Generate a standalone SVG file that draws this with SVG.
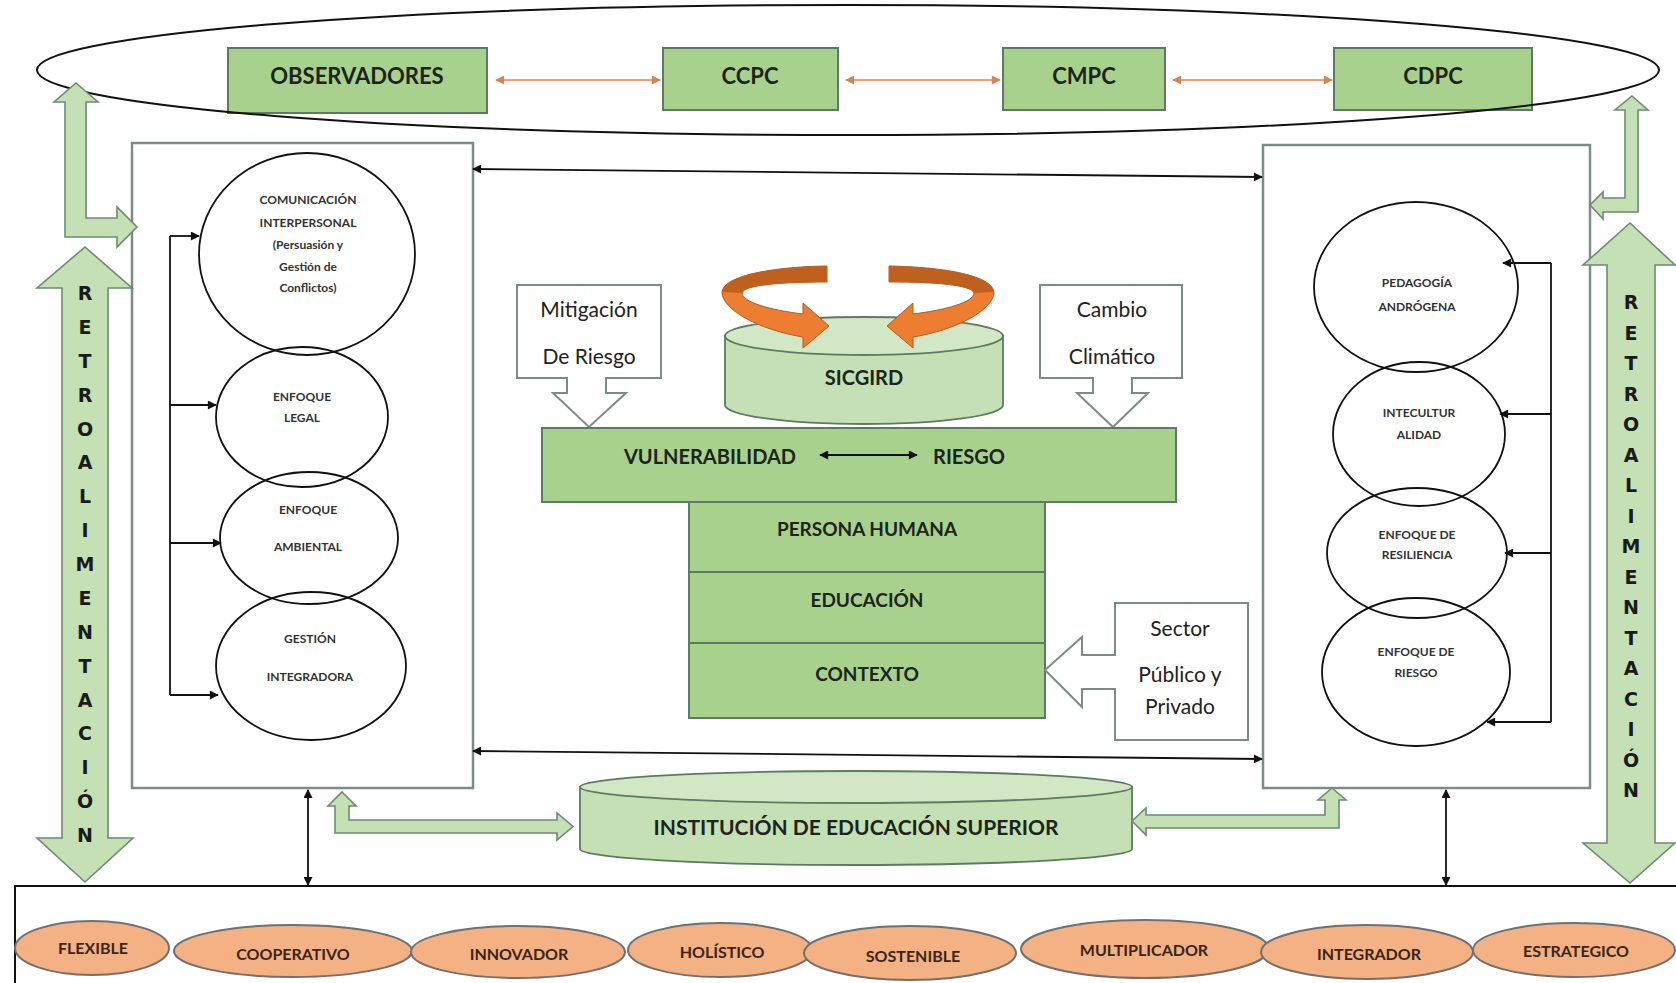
<svg xmlns="http://www.w3.org/2000/svg" width="1676" height="983" viewBox="0 0 1676 983">
  <style>
    .bg { fill: #ffffff; }
    .gbox { fill: #a9d18e; stroke: #5f7a62; stroke-width: 2; }
    .lbox { fill: #c5e0b4; stroke: #5f7a62; stroke-width: 1.8; }
    .ltop { fill: #d2e8c5; stroke: #5f7a62; stroke-width: 1.8; }
    .panel { fill: #ffffff; stroke: #7d8c85; stroke-width: 2.5; }
    .callout { fill: #ffffff; stroke: #7d8c85; stroke-width: 2; }
    .circ { fill: none; stroke: #111; stroke-width: 1.8; }
    .garrow { fill: #c5e0b4; stroke: #6e8b74; stroke-width: 1.6; stroke-linejoin: miter; }
    .oval { fill: #f4b183; stroke: #707070; stroke-width: 2; }
    .ln { fill: none; stroke: #111; stroke-width: 1.8; }
    .oln { fill: none; stroke: #f0a070; stroke-width: 2; }
    .tb { font-family: Lato, "Liberation Sans", sans-serif; font-weight: bold; fill: #1c241c; text-anchor: middle; }
    .tr { font-family: Lato, "Liberation Sans", sans-serif; font-weight: normal; fill: #222; text-anchor: middle; }
    .ts { font-family: Lato, "Liberation Sans", sans-serif; font-weight: bold; fill: #333; text-anchor: middle; font-size: 12px; }
    .to { font-family: Lato, "Liberation Sans", sans-serif; font-weight: bold; fill: #3a2518; text-anchor: middle; font-size: 16px; }
    .tv { font-family: "DejaVu Sans", sans-serif; font-weight: bold; fill: #1a1a1a; text-anchor: middle; font-size: 19px; }
  </style>
  <defs>
    <marker id="ah" viewBox="0 0 10 10" refX="9" refY="5" markerWidth="10" markerHeight="9" markerUnits="userSpaceOnUse" orient="auto-start-reverse">
      <path d="M0,0 L10,5 L0,10 z" fill="#111"/>
    </marker>
    <marker id="oh" viewBox="0 0 10 10" refX="9" refY="5" markerWidth="10" markerHeight="9" markerUnits="userSpaceOnUse" orient="auto-start-reverse">
      <path d="M0,0 L10,5 L0,10 z" fill="#d0855a"/>
    </marker>
  </defs>

  <rect class="bg" x="0" y="0" width="1676" height="983"/>

  <!-- top bodies -->
  <g id="observadores">
    <rect class="gbox" x="228" y="48" width="259" height="65"/>
    <text class="tb" x="357" y="84" font-size="22">OBSERVADORES</text>
  </g>
  <g id="ccpc">
    <rect class="gbox" x="663" y="48" width="175" height="62"/>
    <text class="tb" x="750" y="84" font-size="22">CCPC</text>
  </g>
  <g id="cmpc">
    <rect class="gbox" x="1003" y="48" width="162" height="62"/>
    <text class="tb" x="1084" y="84" font-size="22">CMPC</text>
  </g>
  <g id="cdpc">
    <rect class="gbox" x="1334" y="48" width="198" height="62"/>
    <text class="tb" x="1433" y="84" font-size="22">CDPC</text>
  </g>
  <g id="comites-ellipse">
    <ellipse cx="848" cy="70" rx="811" ry="65" fill="none" stroke="#111" stroke-width="2"/>
  </g>

  <!-- side panels -->
  <g id="panel-izquierdo">
    <rect class="panel" x="132" y="143" width="341" height="645"/>
  </g>
  <g id="panel-derecho">
    <rect class="panel" x="1263" y="145" width="327" height="643"/>
  </g>

  <!-- left column of approaches -->
  <g id="comunicacion">
    <ellipse class="circ" cx="307" cy="254" rx="108" ry="101"/>
    <text class="ts" x="308" y="204">COMUNICACIÓN</text>
    <text class="ts" x="308" y="227">INTERPERSONAL</text>
    <text class="ts" x="308" y="249">(Persuasión y</text>
    <text class="ts" x="308" y="271">Gestión de</text>
    <text class="ts" x="308" y="292">Conflictos)</text>
  </g>
  <g id="enfoque-legal">
    <ellipse class="circ" cx="302" cy="417" rx="86" ry="70"/>
    <text class="ts" x="302" y="401">ENFOQUE</text>
    <text class="ts" x="302" y="422">LEGAL</text>
  </g>
  <g id="enfoque-ambiental">
    <ellipse class="circ" cx="309" cy="538" rx="89" ry="66"/>
    <text class="ts" x="308" y="514">ENFOQUE</text>
    <text class="ts" x="308" y="551">AMBIENTAL</text>
  </g>
  <g id="gestion-integradora">
    <ellipse class="circ" cx="311" cy="666" rx="95" ry="74"/>
    <text class="ts" x="310" y="643">GESTIÓN</text>
    <text class="ts" x="310" y="681">INTEGRADORA</text>
  </g>

  <!-- right column of approaches -->
  <g id="pedagogia">
    <ellipse class="circ" cx="1416" cy="287" rx="102" ry="85"/>
    <text class="ts" x="1417" y="287">PEDAGOGÍA</text>
    <text class="ts" x="1417" y="311">ANDRÓGENA</text>
  </g>
  <g id="interculturalidad">
    <ellipse class="circ" cx="1419" cy="434" rx="86" ry="72"/>
    <text class="ts" x="1419" y="417">INTECULTUR</text>
    <text class="ts" x="1419" y="439">ALIDAD</text>
  </g>
  <g id="resiliencia">
    <ellipse class="circ" cx="1417" cy="553" rx="90" ry="65"/>
    <text class="ts" x="1417" y="539">ENFOQUE DE</text>
    <text class="ts" x="1417" y="559">RESILIENCIA</text>
  </g>
  <g id="enfoque-riesgo">
    <ellipse class="circ" cx="1416" cy="672" rx="94" ry="74"/>
    <text class="ts" x="1416" y="656">ENFOQUE DE</text>
    <text class="ts" x="1416" y="677">RIESGO</text>
  </g>

  <!-- centre block -->
  <g id="mitigacion">
    <polygon class="callout" points="517,285 661,285 661,378 606,378 606,393 626,393 589,427 553,393 567,393 567,378 517,378"/>
    <text class="tr" x="589" y="317" font-size="21">Mitigación</text>
    <text class="tr" x="589" y="364" font-size="21">De Riesgo</text>
  </g>
  <g id="cambio-climatico">
    <polygon class="callout" points="1040,285 1182,285 1182,378 1132,378 1132,393 1148,393 1113,427 1077,393 1093,393 1093,378 1040,378"/>
    <text class="tr" x="1112" y="317" font-size="21">Cambio</text>
    <text class="tr" x="1112" y="364" font-size="21">Climático</text>
  </g>
  <g id="sicgird">
    <path class="lbox" d="M725 336 V405 A139 19 0 0 0 1003 405 V336 Z"/>
    <ellipse class="ltop" cx="864" cy="336" rx="139" ry="19"/>
    <text class="tb" x="864" y="385" font-size="20">SICGIRD</text>
    <!-- rotating ribbon arrows around the cylinder -->
    <g id="ciclo-izq">
      <path d="M827 266 C770 267 724 276 722 292 C722 310 760 330 803 337 L803 348 L829 326 L803 303 L803 314 C770 310 742 302 742 293 C744 285 780 282 827 282 Z" fill="#ed7d31" stroke="#b45a22" stroke-width="1"/>
      <path d="M827 266 C770 267 724 276 722 292 L742 293 C744 285 780 282 827 282 Z" fill="#c0601f"/>
    </g>
    <g id="ciclo-der" transform="translate(1716,0) scale(-1,1)">
      <path d="M827 266 C770 267 724 276 722 292 C722 310 760 330 803 337 L803 348 L829 326 L803 303 L803 314 C770 310 742 302 742 293 C744 285 780 282 827 282 Z" fill="#ed7d31" stroke="#b45a22" stroke-width="1"/>
      <path d="M827 266 C770 267 724 276 722 292 L742 293 C744 285 780 282 827 282 Z" fill="#c0601f"/>
    </g>
  </g>
  <g id="vulnerabilidad-riesgo">
    <rect class="gbox" x="542" y="428" width="634" height="74"/>
    <text class="tb" x="710" y="464" font-size="20">VULNERABILIDAD</text>
    <text class="tb" x="969" y="464" font-size="20">RIESGO</text>
  </g>
  <g id="persona-humana">
    <rect class="gbox" x="689" y="502" width="356" height="70"/>
    <text class="tb" x="867" y="536" font-size="19">PERSONA HUMANA</text>
  </g>
  <g id="educacion">
    <rect class="gbox" x="689" y="572" width="356" height="71"/>
    <text class="tb" x="867" y="607" font-size="19">EDUCACIÓN</text>
  </g>
  <g id="contexto">
    <rect class="gbox" x="689" y="643" width="356" height="75"/>
    <text class="tb" x="867" y="681" font-size="19">CONTEXTO</text>
  </g>
  <g id="sector">
    <polygon class="callout" points="1115,603 1248,603 1248,740 1115,740 1115,689 1082,689 1082,707 1045,670 1082,637 1082,655 1115,655"/>
    <text class="tr" x="1180" y="636" font-size="21">Sector</text>
    <text class="tr" x="1180" y="682" font-size="21">Público y</text>
    <text class="tr" x="1180" y="714" font-size="21">Privado</text>
  </g>
  <g id="institucion">
    <path class="lbox" d="M580 787 V849 A276 16 0 0 0 1132 849 V787 Z"/>
    <ellipse class="ltop" cx="856" cy="787" rx="276" ry="16"/>
    <text class="tb" x="856" y="835" font-size="21">INSTITUCIÓN DE EDUCACIÓN SUPERIOR</text>
  </g>

  <!-- feedback arrows -->
  <g id="retro-izquierda">
    <polygon class="garrow" points="85,247 132,288 108,288 108,838 133,838 85,882 37,838 62,838 62,288 37,288"/>
    <text class="tv">
      <tspan x="85" y="300">R</tspan><tspan x="85" y="334">E</tspan><tspan x="85" y="368">T</tspan><tspan x="85" y="402">R</tspan><tspan x="85" y="436">O</tspan><tspan x="85" y="469">A</tspan><tspan x="85" y="503">L</tspan><tspan x="85" y="537">I</tspan><tspan x="85" y="571">M</tspan><tspan x="85" y="605">E</tspan><tspan x="85" y="639">N</tspan><tspan x="85" y="673">T</tspan><tspan x="85" y="707">A</tspan><tspan x="85" y="740">C</tspan><tspan x="85" y="774">I</tspan><tspan x="85" y="808">Ó</tspan><tspan x="85" y="842">N</tspan>
    </text>
  </g>
  <g id="retro-derecha">
    <polygon class="garrow" points="1630,223 1675,265 1655,265 1655,843 1675,843 1630,883 1583,843 1607,843 1607,265 1583,265"/>
    <text class="tv">
      <tspan x="1631" y="309">R</tspan><tspan x="1631" y="340">E</tspan><tspan x="1631" y="370">T</tspan><tspan x="1631" y="401">R</tspan><tspan x="1631" y="431">O</tspan><tspan x="1631" y="462">A</tspan><tspan x="1631" y="492">L</tspan><tspan x="1631" y="523">I</tspan><tspan x="1631" y="553">M</tspan><tspan x="1631" y="584">E</tspan><tspan x="1631" y="614">N</tspan><tspan x="1631" y="645">T</tspan><tspan x="1631" y="675">A</tspan><tspan x="1631" y="706">C</tspan><tspan x="1631" y="736">I</tspan><tspan x="1631" y="767">Ó</tspan><tspan x="1631" y="797">N</tspan>
    </text>
  </g>

  <!-- bottom strip of qualities -->
  <g id="cualidades">
    <path d="M1676 886 H15 V983" fill="none" stroke="#111" stroke-width="2"/>
  </g>
  <g id="cooperativo">
    <ellipse class="oval" cx="293" cy="951" rx="119" ry="26"/>
    <text class="to" x="293" y="960">COOPERATIVO</text>
  </g>
  <g id="innovador">
    <ellipse class="oval" cx="518" cy="952" rx="107" ry="26"/>
    <text class="to" x="519" y="960">INNOVADOR</text>
  </g>
  <g id="holistico">
    <ellipse class="oval" cx="720" cy="950" rx="92" ry="27"/>
    <text class="to" x="722" y="958">HOLÍSTICO</text>
  </g>
  <g id="sostenible">
    <ellipse class="oval" cx="910" cy="953" rx="106" ry="27"/>
    <text class="to" x="913" y="962">SOSTENIBLE</text>
  </g>
  <g id="multiplicador">
    <ellipse class="oval" cx="1145" cy="949" rx="124" ry="29"/>
    <text class="to" x="1144" y="956">MULTIPLICADOR</text>
  </g>
  <g id="integrador">
    <ellipse class="oval" cx="1367" cy="952" rx="106" ry="27"/>
    <text class="to" x="1369" y="960">INTEGRADOR</text>
  </g>
  <g id="estrategico">
    <ellipse class="oval" cx="1574" cy="950" rx="101" ry="27"/>
    <text class="to" x="1576" y="957">ESTRATEGICO</text>
  </g>
  <g id="flexible">
    <ellipse class="oval" cx="92" cy="948" rx="77" ry="27" stroke="#1a1a1a" stroke-width="2.5"/>
    <text class="to" x="93" y="954" font-size="15">FLEXIBLE</text>
  </g>

  <!-- connectors -->
  <g id="connectors">
    <path class="oln" d="M496 80 H660" marker-start="url(#oh)" marker-end="url(#oh)"/>
    <path class="oln" d="M846 80 H1000" marker-start="url(#oh)" marker-end="url(#oh)"/>
    <path class="oln" d="M1173 80 H1332" marker-start="url(#oh)" marker-end="url(#oh)"/>

    <path class="ln" d="M473 169 L1262 177" marker-start="url(#ah)" marker-end="url(#ah)"/>
    <path class="ln" d="M473 751 L1262 759" marker-start="url(#ah)" marker-end="url(#ah)"/>
    <path class="ln" d="M308 790 V885" marker-start="url(#ah)" marker-end="url(#ah)"/>
    <path class="ln" d="M1446 790 V885" marker-start="url(#ah)" marker-end="url(#ah)"/>

    <path class="ln" d="M820 455 H917" stroke-width="2" marker-start="url(#ah)" marker-end="url(#ah)"/>

    <path class="ln" d="M170 236 V695"/>
    <path class="ln" d="M170 236 H199" marker-end="url(#ah)"/>
    <path class="ln" d="M170 405 H216" marker-end="url(#ah)"/>
    <path class="ln" d="M170 543 H221" marker-end="url(#ah)"/>
    <path class="ln" d="M170 695 H218" marker-end="url(#ah)"/>

    <path class="ln" d="M1551 263 V722"/>
    <path class="ln" d="M1551 263 H1503" marker-end="url(#ah)"/>
    <path class="ln" d="M1551 414 H1500" marker-end="url(#ah)"/>
    <path class="ln" d="M1551 553 H1505" marker-end="url(#ah)"/>
    <path class="ln" d="M1551 722 H1487" marker-end="url(#ah)"/>

    <polygon class="garrow" points="76,83 98,102 86,102 86,218 117,218 117,207 137,227 117,247 117,237 65,237 65,102 54,102"/>
    <polygon class="garrow" points="1632,96 1648,110 1638,110 1638,212 1603,212 1603,219 1590,205 1603,192 1603,198 1625,198 1625,110 1615,110"/>
    <polygon class="garrow" points="342,792 356,806 349,806 349,820 557,820 557,813 573,826.5 557,840 557,833 335,833 335,806 328,806"/>
    <polygon class="garrow" points="1332,788 1346,800 1339,800 1339,828 1146,828 1146,835 1132,821 1146,808 1146,815 1325,815 1325,800 1318,800"/>
  </g>
</svg>
